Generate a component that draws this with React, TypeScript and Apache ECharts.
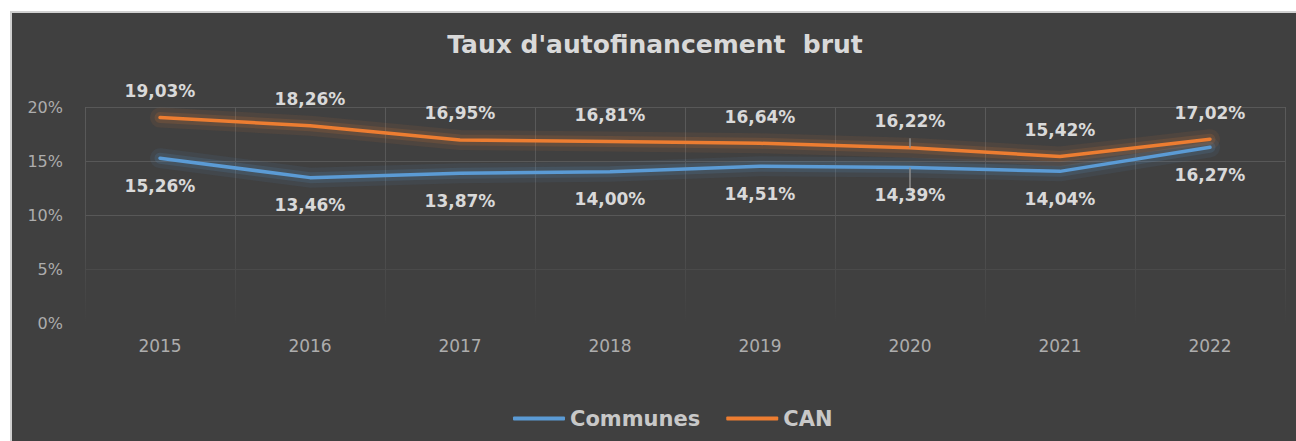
import React, { useEffect, useRef } from "react";
import * as echarts from "echarts";

const categories = ["2015", "2016", "2017", "2018", "2019", "2020", "2021", "2022"];
const communes = [15.26, 13.46, 13.87, 14.0, 14.51, 14.39, 14.04, 16.27];
const can = [19.03, 18.26, 16.95, 16.81, 16.64, 16.22, 15.42, 17.02];
const yTicks = { min: 0, max: 20, interval: 5 };
const titleText = "Taux d'autofinancement  brut";
const seriesNames = ["Communes", "CAN"];
const guideIndex = 5;

const BLUE = "#5B9BD5";
const ORANGE = "#ED7D31";
const FONT = "DejaVu Sans";

const fmt = (p: any) => Number(p.value).toFixed(2).replace(".", ",") + "%";

export default function App() {
  const ref = useRef<HTMLDivElement>(null);
  useEffect(() => {
    if (!ref.current) return;
    const chart = echarts.init(ref.current, null, { renderer: "svg" });
    const mkData = (arr: number[]) =>
      arr.map((v, i) =>
        i === guideIndex
          ? { value: v, labelLine: { show: true, lineStyle: { color: "#8c8c8c", width: 1.5 } } }
          : v
      );
    const labelBase = {
      show: true,
      formatter: fmt,
      color: "#D9D9D9",
      fontFamily: FONT,
      fontWeight: "bold" as const,
      fontSize: 17,
    };
    const halo = (name: string, arr: number[], color: string, width: number, opacity: number, z: number) => ({
      name,
      type: "line",
      data: arr,
      showSymbol: false,
      symbol: "none",
      silent: true,
      color,
      lineStyle: { color, width, opacity, cap: "round", join: "round" },
      label: { show: false },
      z,
    });
    chart.setOption({
      animation: false,
      backgroundColor: "#404040",
      title: {
        text: titleText,
        left: "center",
        top: 14,
        textStyle: { fontSize: 25, fontWeight: "bold", color: "#D9D9D9", fontFamily: FONT },
      },
      legend: {
        left: 496,
        top: 390,
        icon: "roundRect",
        itemWidth: 52,
        itemHeight: 4,
        itemGap: 26,
        textStyle: { fontSize: 21, fontWeight: "bold", color: "#C8C8C8", fontFamily: FONT },
        data: seriesNames,
      },
      grid: { left: 73, top: 94, width: 1200, height: 216, containLabel: false },
      xAxis: {
        type: "category",
        data: categories,
        boundaryGap: true,
        axisLine: { show: false },
        axisTick: { show: false },
        axisLabel: { margin: 14, fontSize: 17, color: "#ADADAD", fontFamily: FONT },
        splitLine: {
          show: true,
          lineStyle: {
            width: 1,
            color: new echarts.graphic.LinearGradient(
              0,
              94,
              0,
              310,
              [
                { offset: 0, color: "#5a5a5a" },
                { offset: 0.55, color: "#535353" },
                { offset: 0.9, color: "#444444" },
                { offset: 1, color: "#404040" },
              ],
              true
            ),
          },
        },
      },
      yAxis: {
        type: "value",
        min: yTicks.min,
        max: yTicks.max,
        interval: yTicks.interval,
        axisLine: { show: false },
        axisTick: { show: false },
        axisLabel: { margin: 22, fontSize: 16, color: "#ADADAD", fontFamily: FONT, formatter: "{value}%" },
        splitLine: {
          show: true,
          lineStyle: { width: 1, color: ["rgba(0,0,0,0)", "#4a4a4a", "#585858", "#585858", "#585858"] },
        },
      },
      series: [
        halo("haloC1", communes, BLUE, 20, 0.08, 1),
        halo("haloC2", communes, BLUE, 11, 0.14, 1),
        halo("haloA1", can, ORANGE, 20, 0.08, 2),
        halo("haloA2", can, ORANGE, 11, 0.14, 2),
        {
          name: seriesNames[0],
          type: "line",
          data: mkData(communes),
          symbol: "circle",
          symbolSize: 0,
          showSymbol: true,
          color: BLUE,
          lineStyle: { color: BLUE, width: 3.5, cap: "round", join: "round" },
          itemStyle: { color: BLUE },
          label: { ...labelBase, position: "bottom", distance: 19 },
          labelLine: { show: false },
          z: 3,
        },
        {
          name: seriesNames[1],
          type: "line",
          data: mkData(can),
          symbol: "circle",
          symbolSize: 0,
          showSymbol: true,
          color: ORANGE,
          lineStyle: { color: ORANGE, width: 3.5, cap: "round", join: "round" },
          itemStyle: { color: ORANGE },
          label: { ...labelBase, position: "top", distance: 18 },
          labelLine: { show: false },
          z: 4,
        },
      ],
    });
    return () => chart.dispose();
  }, []);

  return (
    <div style={{ position: "fixed", left: 0, top: 0, width: 1296, height: 441, background: "#ffffff", overflow: "hidden" }}>
      <div
        style={{
          position: "absolute",
          left: 10,
          top: 11,
          borderLeft: "2px solid #d0d0d0",
          borderTop: "2px solid #d0d0d0",
          width: 1286,
          height: 430,
        }}
      >
        <div ref={ref} style={{ width: 1286, height: 430 }} />
      </div>
    </div>
  );
}
